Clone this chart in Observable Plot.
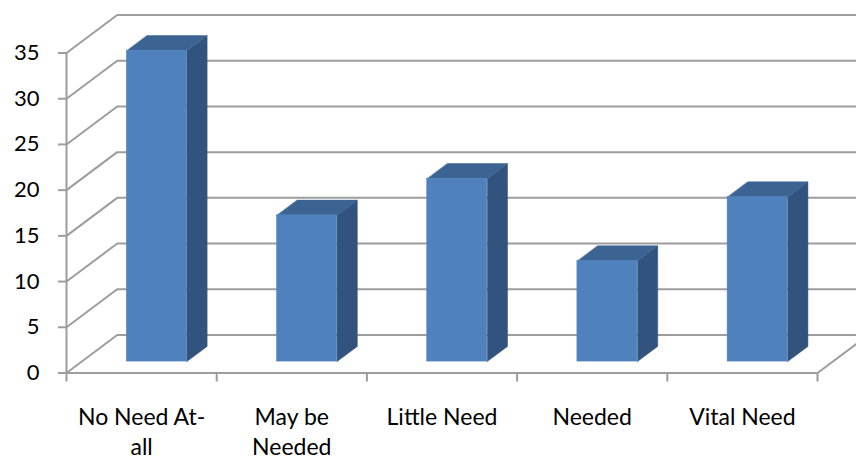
<!DOCTYPE html>
<html>
<head>
<meta charset="utf-8">
<script src="https://cdn.jsdelivr.net/npm/d3@7"></script>
<script src="https://cdn.jsdelivr.net/npm/@observablehq/plot@0.6"></script>
<style>
  html, body { margin: 0; padding: 0; background: #fff; }
</style>
</head>
<body>
<div id="chart"></div>
<script>
// ---- data ----
const categories = ["No Need At-\nall", "May be\nNeeded", "Little Need", "Needed", "Vital Need"];
const values = [34, 16, 20, 11, 18];
const yTicks = [0, 5, 10, 15, 20, 25, 30, 35];

// ---- layout / style constants ----
const W = 856, H = 457;
const mL = 66, mR = 39, mT = 52.5, mB = 84.5;
const yMax = 35;
const pxPerCat = (W - mL - mR) / categories.length;
const pxPerUnit = (H - mT - mB) / yMax;
// oblique depth of the 3-D box, in pixels, converted to data units
const DX = 50.7 / pxPerCat;
const DY = 38 / pxPerUnit;
const barL = 0.3, barR = 0.7;      // bar extent within a category band
const depth0 = 0.3, depth1 = 0.7;  // bar extent in depth
const grid = "#9d9d9d";
const cFront = "#4F81BD", cSide = "#32537D", cTop = "#3C6492";

// projection helper: category-space x, value y, depth d -> data coords
const P = (x, y, d) => ({x: x + d * DX, y: y + d * DY});

const bars = values.map((v, i) => ({i, v}));
const sides = bars.flatMap(({i, v}) => [
  P(i + barR, 0, depth0), P(i + barR, 0, depth1), P(i + barR, v, depth1), P(i + barR, v, depth0)
].map(p => ({...p, id: i})));
const tops = bars.flatMap(({i, v}) => [
  P(i + barL, v, depth0), P(i + barR, v, depth0), P(i + barR, v, depth1), P(i + barL, v, depth1)
].map(p => ({...p, id: i})));
const fronts = bars.map(({i, v}) => {
  const a = P(i + barL, 0, depth0), b = P(i + barR, v, depth0);
  return {x1: a.x, x2: b.x, y1: a.y, y2: b.y};
});

const chart = Plot.plot({
  width: W, height: H,
  marginLeft: mL, marginRight: mR, marginTop: mT, marginBottom: mB,
  x: {type: "linear", domain: [0, categories.length], axis: null},
  y: {type: "linear", domain: [0, yMax], axis: null},
  style: {fontFamily: "Lato, 'Open Sans', sans-serif", fontSize: "22px", color: "#000", background: "#fff", overflow: "visible"},
  marks: [
    // back wall gridlines
    Plot.ruleY(yTicks, {y: t => t + DY, x1: DX, x2: categories.length + DX, stroke: grid, strokeWidth: 2}),
    // side wall diagonals
    Plot.link(yTicks, {x1: 0, y1: t => t, x2: DX, y2: t => t + DY, stroke: grid, strokeWidth: 2}),
    // floor front edge and right edge
    Plot.ruleY([0], {x1: 0, x2: categories.length, stroke: grid, strokeWidth: 2}),
    Plot.link([0], {x1: categories.length, y1: 0, x2: categories.length + DX, y2: DY, stroke: grid, strokeWidth: 2}),
    // front y-axis line and ticks
    Plot.ruleX([0], {y1: 0, y2: yMax, stroke: grid, strokeWidth: 2}),
    Plot.ruleY(yTicks, {x1: 0, x2: 0, insetLeft: -8, stroke: grid, strokeWidth: 2}),
    Plot.text(yTicks, {x: 0, y: t => t, text: t => String(t), textAnchor: "end", dx: -27, fill: "#000"}),
    // category ticks
    Plot.ruleX(d3.range(categories.length + 1), {y1: 0, y2: 0, insetBottom: -9, stroke: grid, strokeWidth: 2}),
    // category labels
    Plot.text(categories, {x: (d, i) => i + 0.5, y: 0, text: d => d, lineAnchor: "top", dy: 30, lineHeight: 1.32, fontSize: 23, fill: "#000"}),
    // bars
    Plot.line(sides, {x: "x", y: "y", z: "id", fill: cSide, stroke: cSide, strokeWidth: 0.5, curve: "linear-closed"}),
    Plot.line(tops, {x: "x", y: "y", z: "id", fill: cTop, stroke: cTop, strokeWidth: 0.5, curve: "linear-closed"}),
    Plot.rect(fronts, {x1: "x1", x2: "x2", y1: "y1", y2: "y2", fill: cFront, stroke: "#5a8ac2", strokeWidth: 0.5})
  ]
});
document.getElementById("chart").appendChild(chart);
</script>
</body>
</html>
